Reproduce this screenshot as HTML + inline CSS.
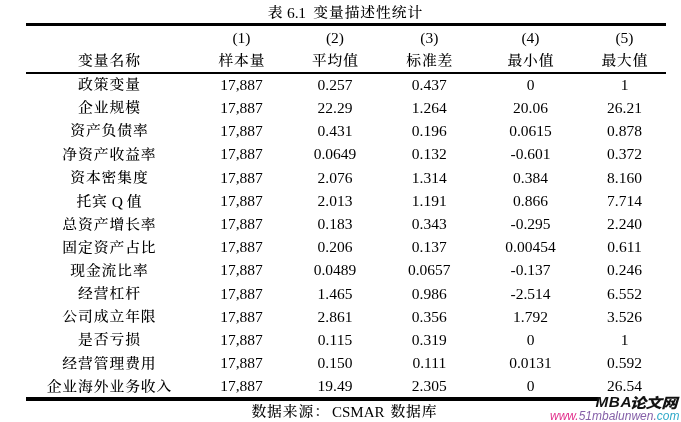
<!DOCTYPE html>
<html lang="zh-CN"><head><meta charset="utf-8"><title>表 6.1 变量描述性统计</title>
<style>
html,body{margin:0;padding:0;background:#fff;}
body{width:681px;height:422px;position:relative;overflow:hidden;font-family:"Liberation Serif","Noto Serif CJK SC",serif;font-size:15.5px;color:#000;}
.c{position:absolute;white-space:nowrap;transform:translate(-50%,-50%);line-height:1;}
.z{font-size:14.8px;letter-spacing:0.9px;padding-left:0.9px;font-weight:500;transform:translate(-50%,-50%) scaleY(0.93);}
.z.l{transform:translate(0,-50%) scaleY(0.93);}
.z i{font-style:normal;font-weight:400;font-size:15.5px;letter-spacing:0;line-height:0;display:inline-block;transform:scaleY(1.075);transform-origin:50% 70%;white-space:pre;}
.l{transform:translate(0,-50%);}
.ln{position:absolute;background:#000;}
.wm1{position:absolute;white-space:nowrap;font-family:"Liberation Sans","Noto Sans CJK SC",sans-serif;font-weight:bold;font-style:italic;color:#111;line-height:1;}
.wm1 span{font-size:16.3px;font-weight:900;display:inline-block;position:relative;top:1px;transform:scaleY(0.86);transform-origin:0 80%;margin-left:-2.5px;letter-spacing:-0.5px;}
.wm2{position:absolute;white-space:nowrap;font-family:"Liberation Sans",sans-serif;font-style:italic;line-height:1;}
</style></head><body>

<div class="c z" style="left:345px;top:13.3px;">表<i style='letter-spacing:-0.2px'> 6.1  </i>变量描述性统计</div>
<div class="ln" style="left:26px;top:22.8px;width:639.5px;height:3.2px"></div>
<div class="ln" style="left:26px;top:71.8px;width:639.5px;height:2.2px"></div>
<div class="ln" style="left:26px;top:397px;width:572px;height:3.8px"></div>
<div class="c z" style="left:109px;top:61px;">变量名称</div>
<div class="c" style="left:241.5px;top:37.5px;">(1)</div>
<div class="c z" style="left:241.5px;top:61px;">样本量</div>
<div class="c" style="left:335px;top:37.5px;">(2)</div>
<div class="c z" style="left:335px;top:61px;">平均值</div>
<div class="c" style="left:429.3px;top:37.5px;">(3)</div>
<div class="c z" style="left:429.3px;top:61px;">标准差</div>
<div class="c" style="left:530.5px;top:37.5px;">(4)</div>
<div class="c z" style="left:530.5px;top:61px;">最小值</div>
<div class="c" style="left:624.5px;top:37.5px;">(5)</div>
<div class="c z" style="left:624.5px;top:61px;">最大值</div>
<div class="c z" style="left:109px;top:84.7px;">政策变量</div>
<div class="c" style="left:241.5px;top:85.0px;">17,887</div>
<div class="c" style="left:335px;top:85.0px;">0.257</div>
<div class="c" style="left:429.3px;top:85.0px;">0.437</div>
<div class="c" style="left:530.5px;top:85.0px;">0</div>
<div class="c" style="left:624.5px;top:85.0px;">1</div>
<div class="c z" style="left:109px;top:107.84px;">企业规模</div>
<div class="c" style="left:241.5px;top:108.04px;">17,887</div>
<div class="c" style="left:335px;top:108.04px;">22.29</div>
<div class="c" style="left:429.3px;top:108.04px;">1.264</div>
<div class="c" style="left:530.5px;top:108.04px;">20.06</div>
<div class="c" style="left:624.5px;top:108.04px;">26.21</div>
<div class="c z" style="left:109px;top:131.38px;">资产负债率</div>
<div class="c" style="left:241.5px;top:131.08px;">17,887</div>
<div class="c" style="left:335px;top:131.08px;">0.431</div>
<div class="c" style="left:429.3px;top:131.08px;">0.196</div>
<div class="c" style="left:530.5px;top:131.08px;">0.0615</div>
<div class="c" style="left:624.5px;top:131.08px;">0.878</div>
<div class="c z" style="left:109px;top:154.62px;">净资产收益率</div>
<div class="c" style="left:241.5px;top:154.12px;">17,887</div>
<div class="c" style="left:335px;top:154.12px;">0.0649</div>
<div class="c" style="left:429.3px;top:154.12px;">0.132</div>
<div class="c" style="left:530.5px;top:154.12px;">-0.601</div>
<div class="c" style="left:624.5px;top:154.12px;">0.372</div>
<div class="c z" style="left:109px;top:178.16px;">资本密集度</div>
<div class="c" style="left:241.5px;top:177.86px;">17,887</div>
<div class="c" style="left:335px;top:177.86px;">2.076</div>
<div class="c" style="left:429.3px;top:177.86px;">1.314</div>
<div class="c" style="left:530.5px;top:177.86px;">0.384</div>
<div class="c" style="left:624.5px;top:177.86px;">8.160</div>
<div class="c z" style="left:109px;top:201.8px;">托宾<i> Q </i>值</div>
<div class="c" style="left:241.5px;top:201.3px;">17,887</div>
<div class="c" style="left:335px;top:201.3px;">2.013</div>
<div class="c" style="left:429.3px;top:201.3px;">1.191</div>
<div class="c" style="left:530.5px;top:201.3px;">0.866</div>
<div class="c" style="left:624.5px;top:201.3px;">7.714</div>
<div class="c z" style="left:109px;top:224.84px;">总资产增长率</div>
<div class="c" style="left:241.5px;top:224.34px;">17,887</div>
<div class="c" style="left:335px;top:224.34px;">0.183</div>
<div class="c" style="left:429.3px;top:224.34px;">0.343</div>
<div class="c" style="left:530.5px;top:224.34px;">-0.295</div>
<div class="c" style="left:624.5px;top:224.34px;">2.240</div>
<div class="c z" style="left:109px;top:247.68px;">固定资产占比</div>
<div class="c" style="left:241.5px;top:247.38px;">17,887</div>
<div class="c" style="left:335px;top:247.38px;">0.206</div>
<div class="c" style="left:429.3px;top:247.38px;">0.137</div>
<div class="c" style="left:530.5px;top:247.38px;">0.00454</div>
<div class="c" style="left:624.5px;top:247.38px;">0.611</div>
<div class="c z" style="left:109px;top:270.92px;">现金流比率</div>
<div class="c" style="left:241.5px;top:270.42px;">17,887</div>
<div class="c" style="left:335px;top:270.42px;">0.0489</div>
<div class="c" style="left:429.3px;top:270.42px;">0.0657</div>
<div class="c" style="left:530.5px;top:270.42px;">-0.137</div>
<div class="c" style="left:624.5px;top:270.42px;">0.246</div>
<div class="c z" style="left:109px;top:293.66px;">经营杠杆</div>
<div class="c" style="left:241.5px;top:294.36px;">17,887</div>
<div class="c" style="left:335px;top:294.36px;">1.465</div>
<div class="c" style="left:429.3px;top:294.36px;">0.986</div>
<div class="c" style="left:530.5px;top:294.36px;">-2.514</div>
<div class="c" style="left:624.5px;top:294.36px;">6.552</div>
<div class="c z" style="left:109px;top:316.6px;">公司成立年限</div>
<div class="c" style="left:241.5px;top:317.4px;">17,887</div>
<div class="c" style="left:335px;top:317.4px;">2.861</div>
<div class="c" style="left:429.3px;top:317.4px;">0.356</div>
<div class="c" style="left:530.5px;top:317.4px;">1.792</div>
<div class="c" style="left:624.5px;top:317.4px;">3.526</div>
<div class="c z" style="left:109px;top:339.94px;">是否亏损</div>
<div class="c" style="left:241.5px;top:340.44px;">17,887</div>
<div class="c" style="left:335px;top:340.44px;">0.115</div>
<div class="c" style="left:429.3px;top:340.44px;">0.319</div>
<div class="c" style="left:530.5px;top:340.44px;">0</div>
<div class="c" style="left:624.5px;top:340.44px;">1</div>
<div class="c z" style="left:109px;top:363.78px;">经营管理费用</div>
<div class="c" style="left:241.5px;top:363.48px;">17,887</div>
<div class="c" style="left:335px;top:363.48px;">0.150</div>
<div class="c" style="left:429.3px;top:363.48px;">0.111</div>
<div class="c" style="left:530.5px;top:363.48px;">0.0131</div>
<div class="c" style="left:624.5px;top:363.48px;">0.592</div>
<div class="c z" style="left:109px;top:386.72px;">企业海外业务收入</div>
<div class="c" style="left:241.5px;top:385.52px;">17,887</div>
<div class="c" style="left:335px;top:385.52px;">19.49</div>
<div class="c" style="left:429.3px;top:385.52px;">2.305</div>
<div class="c" style="left:530.5px;top:385.52px;">0</div>
<div class="c" style="left:624.5px;top:385.52px;">26.54</div>
<div class="c l z" style="left:250.5px;top:412px;">数据来源：</div>
<div class="c l" style="left:332px;top:411.5px;font-size:15px">CSMAR</div>
<div class="c l z" style="left:389.5px;top:412px;">数据库</div>
<div class="wm1" style="left:595.5px;top:393.3px;font-size:15.3px"><b style="letter-spacing:0.6px">MBA</b><span>论文网</span></div>
<div class="wm2" style="left:550px;top:409.5px;font-size:12px"><span style="color:#e2318c">www.</span><span style="color:#8560a8">51mbalunwen.</span><span style="color:#2fa9c9">com</span></div>
</body></html>
